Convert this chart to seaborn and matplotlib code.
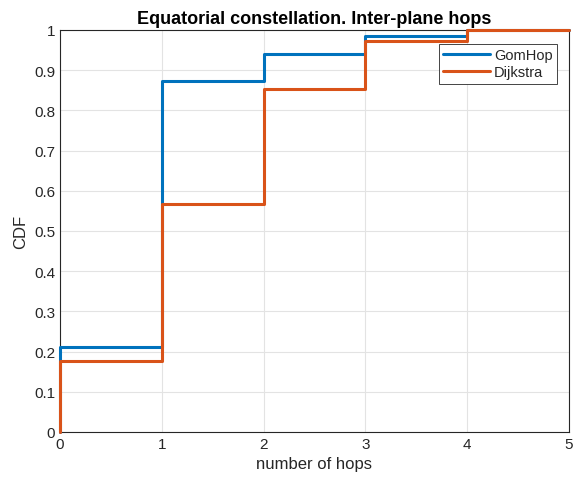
import pandas as pd
import seaborn as sns
import matplotlib
matplotlib.use('Agg')
import matplotlib.pyplot as plt

# CDF values (step plot, starting at 0)
hops = [0, 0, 1, 2, 3, 4, 5]
gomhop_cdf = [0, 0.212, 0.873, 0.940, 0.985, 1.0, 1.0]
dijkstra_cdf = [0, 0.177, 0.567, 0.853, 0.972, 1.0, 1.0]

df = pd.concat([
    pd.DataFrame({'hops': hops, 'cdf': gomhop_cdf, 'method': 'GomHop'}),
    pd.DataFrame({'hops': hops, 'cdf': dijkstra_cdf, 'method': 'Dijkstra'}),
], ignore_index=True)

sns.set_style('white')
plt.rcParams['font.family'] = ['Liberation Sans', 'DejaVu Sans']

fig = plt.figure(figsize=(5.73, 4.85), dpi=100)
ax = fig.add_axes([60 / 573, 52 / 485, 509 / 573, 402 / 485])

sns.lineplot(
    data=df, x='hops', y='cdf', hue='method',
    palette={'GomHop': '#0072BD', 'Dijkstra': '#D95319'},
    estimator=None, sort=False, drawstyle='steps-post',
    linewidth=2.2, ax=ax
)
# draw lines over the box so the steps on the edges stay visible
for ln in ax.lines:
    ln.set_clip_on(False)
    ln.set_zorder(3)

ax.set_xlim(0, 5)
ax.set_ylim(0, 1)
ax.set_xticks(range(6))
ax.set_yticks([i / 10 for i in range(11)])
ax.set_yticklabels(['0', '0.1', '0.2', '0.3', '0.4', '0.5', '0.6', '0.7', '0.8', '0.9', '1'])
ax.grid(True, color='#e3e3e3', linewidth=0.8)
ax.set_axisbelow(True)
ax.tick_params(direction='in', length=4, labelsize=11, colors='#262626')
for s in ax.spines.values():
    s.set_color('#262626')
    s.set_linewidth(0.8)

ax.set_xlabel('number of hops', fontsize=12, color='#262626')
ax.set_ylabel('CDF', fontsize=12, color='#262626')
ax.set_title('Equatorial constellation. Inter-plane hops', fontsize=13,
             fontweight='bold', color='black', pad=5)

leg = ax.legend(loc='upper right', bbox_to_anchor=(1 - 12 / 509, 1 - 14 / 402),
                borderaxespad=0, fancybox=False, framealpha=1, fontsize=10.5,
                handlelength=3.2, handletextpad=0.3, labelspacing=0.2,
                borderpad=0.3)
leg.get_frame().set_edgecolor('#262626')
leg.get_frame().set_linewidth(0.6)
leg.set_zorder(4)

fig.savefig('out.png', dpi=100)
